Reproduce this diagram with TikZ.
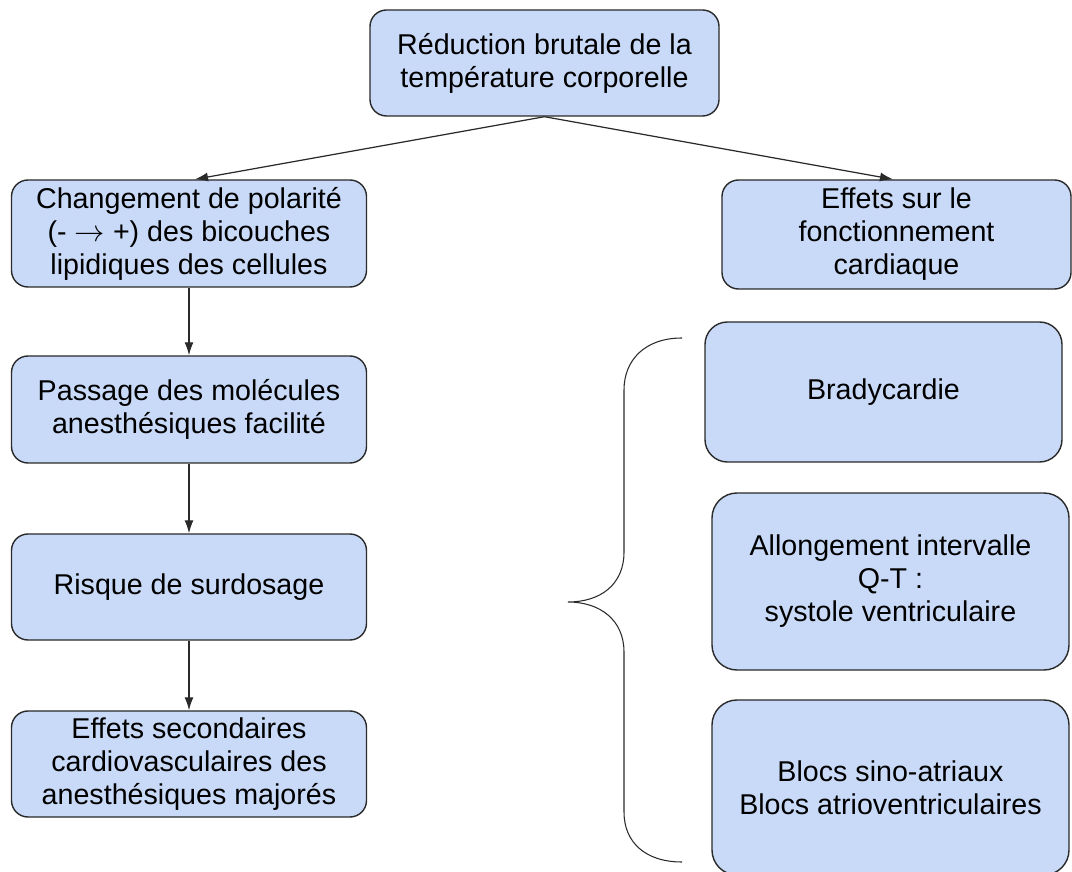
\documentclass[tikz,border=0pt]{standalone}
\usepackage{fontspec}
\setmainfont{Liberation Sans}
\usepackage{tikz}
\usetikzlibrary{arrows.meta}
\definecolor{boxfill}{HTML}{C9DAF8}
\definecolor{boxdraw}{HTML}{2A2A2A}
\tikzset{>={Latex[length=2.6mm,width=1.8mm]}}
\tikzset{box/.style = {draw=boxdraw, fill=boxfill, line width=0.8pt,
    rounded corners=3.3mm, align=center, inner sep=0pt,
    font=\fontsize{16.3}{18.8}\selectfont},
  fleche/.style = {->, line width=0.7pt, draw=boxdraw},
  accolade/.style = {draw=boxdraw, line width=0.6pt}}

\begin{document}
\begin{tikzpicture}[x=0.2mm,y=-0.2mm]
    \useasboundingbox (0,0) rectangle (1072,872);
    \node[box, minimum width=69.8mm, minimum height=21.2mm] (reduc) at (544.5,63)
    {Réduction brutale de la\\température corporelle};
    \node[box, minimum width=71mm, minimum height=21.4mm] (polar) at (189,233.5)
    {Changement de polarité\\(- $\rightarrow$ +) des bicouches\\lipidiques des cellules};
    \node[box, minimum width=71mm, minimum height=21.4mm] (passage) at (189,409.5)
    {Passage des molécules\\anesthésiques facilité};
    \node[box, minimum width=71mm, minimum height=21.2mm] (risque) at (189,587)
    {Risque de surdosage};
    \node[box, minimum width=71mm, minimum height=21.2mm] (second) at (189,764)
    {Effets secondaires\\cardiovasculaires des\\anesthésiques majorés};
    \node[box, minimum width=69.8mm, minimum height=21.8mm] (cardio) at (896.5,234.5)
    {Effets sur le\\fonctionnement\\cardiaque};
    \node[box, rounded corners=4.5mm, minimum width=71.4mm, minimum height=28mm]
    (brady) at (883.5,392) {Bradycardie};
    \node[box, rounded corners=5mm, minimum width=71.4mm, minimum height=35.4mm]
    (allong) at (890.5,581.5) {Allongement intervalle\\Q-T :\\systole ventriculaire};
    \node[box, rounded corners=5mm, minimum width=71.4mm, minimum height=35mm]
    (blocs) at (890.5,787.5) {Blocs sino-atriaux\\Blocs atrioventriculaires};
    \draw[fleche] (reduc.south) -- ([xshift=1.2mm]polar.north);
    \draw[fleche] (reduc.south) -- ([xshift=-0.7mm]cardio.north);
    \draw[fleche] (polar) -- (passage);
    \draw[fleche] (passage) -- (risque);
    \draw[fleche] (risque) -- (second);
    % accolade
    \draw[accolade] (682,338) .. controls (645,338) and (624,360) .. (624,390)
    -- (624,552) .. controls (624,585) and (600,602) .. (568,602)
    .. controls (600,602) and (624,620) .. (624,652)
    -- (624,812) .. controls (624,842) and (645,862) .. (682,862);
\end{tikzpicture}
\end{document}
